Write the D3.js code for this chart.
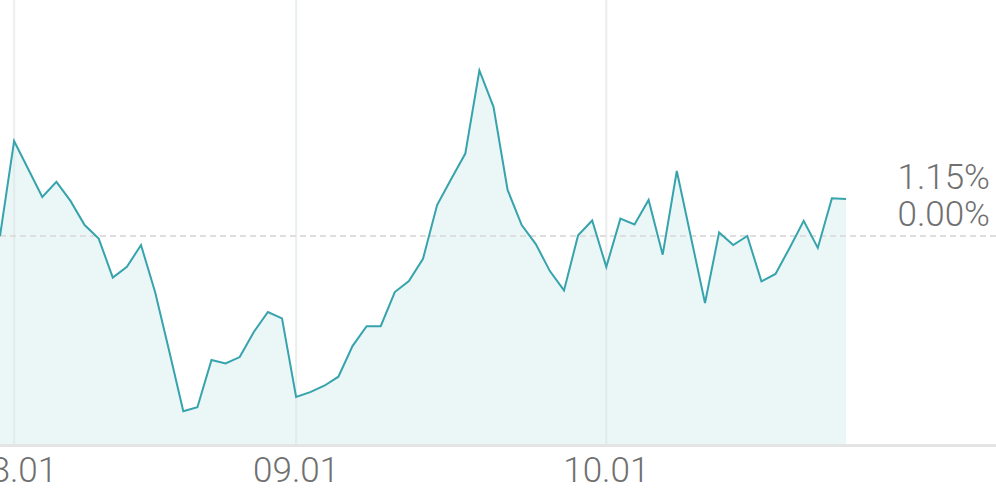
<!DOCTYPE html>
<html>
<head>
<meta charset="utf-8">
<script src="https://cdn.jsdelivr.net/npm/d3@7"></script>
<style>
	body { margin: 0; background: #fff; }
	svg text { font-family: Roboto, sans-serif; font-weight: 300; fill: #707070; }
</style>
</head>
<body>
<div id="chart"></div>
<script>
var w = 996, h = 490;

// Daily change in %, one value per trading day
var changes = [
	0.00, 2.95, 2.08, 1.21, 1.68, 1.09, 0.34, -0.08, -1.29, -0.96,
	-0.28, -1.74, -3.57, -5.44, -5.32, -3.85, -3.96, -3.76, -2.98, -2.36,
	-2.56, -5.00, -4.85, -4.65, -4.37, -3.42, -2.80, -2.80, -1.74, -1.40,
	-0.71, 0.96, 1.77, 2.56, 5.14, 4.01, 1.43, 0.34, -0.25, -1.09,
	-1.69, 0.02, 0.48, -0.96, 0.54, 0.36, 1.12, -0.58, 2.02, -0.03,
	-2.08, 0.11, -0.28, 0.00, -1.41, -1.18, -0.37, 0.47, -0.37, 1.17,
	1.15
];

// Month ticks (index of trading day) and labels
var tickIndex = [1, 21, 43];
var tickLabels = ["08.01", "09.01", "10.01"];

var lastLabel = "1.15%";
var zeroLabel = "0.00%";

var svg = d3.select("#chart").append("svg:svg")
	.attr("width", w)
	.attr("height", h);

var x = d3.scaleLinear()
	.domain([0, 60])
	.range([0, 846]);

var y = d3.scaleLinear()
	.domain([-6.46, 0]) // bottom of plot to zero line
	.range([444, 236]);

// Vertical month gridlines
svg.append("g")
	.selectAll("line")
	.data(tickIndex)
	.enter()
	.append("line")
		.attr("x1", function(d) { return x(d); })
		.attr("x2", function(d) { return x(d); })
		.attr("y1", 0)
		.attr("y2", 444)
		.attr("stroke", "#f1f1f1")
		.attr("stroke-width", 2);

// Area
var area = d3.area()
	.x(function(d, i) { return x(i); })
	.y0(y(-6.46))
	.y1(function(d) { return y(d); });

svg.append("path")
	.datum(changes)
	.attr("d", area)
	.attr("fill", "#3aa6b0")
	.attr("fill-opacity", 0.1);

// Gridlines again, faint over the fill
svg.append("g")
	.selectAll("line")
	.data(tickIndex)
	.enter()
	.append("line")
		.attr("x1", function(d) { return x(d); })
		.attr("x2", function(d) { return x(d); })
		.attr("y1", 0)
		.attr("y2", 444)
		.attr("stroke", "#e6efee")
		.attr("stroke-opacity", 0.5)
		.attr("stroke-width", 2);

// Zero line
svg.append("line")
	.attr("x1", 0)
	.attr("x2", w)
	.attr("y1", y(0))
	.attr("y2", y(0))
	.attr("stroke", "#dedede")
	.attr("stroke-width", 2)
	.attr("stroke-dasharray", "6,4");

// Line
var line = d3.line()
	.x(function(d, i) { return x(i); })
	.y(function(d) { return y(d); });

svg.append("path")
	.datum(changes)
	.attr("d", line)
	.attr("fill", "none")
	.attr("stroke", "#36a3ad")
	.attr("stroke-width", 2)
	.attr("stroke-linejoin", "miter");

// Bottom axis line
svg.append("line")
	.attr("x1", 0)
	.attr("x2", w)
	.attr("y1", 445.5)
	.attr("y2", 445.5)
	.attr("stroke", "#e4e4e4")
	.attr("stroke-width", 3);

// X tick labels
svg.append("g")
	.selectAll("text")
	.data(tickIndex)
	.enter()
	.append("text")
		.attr("x", function(d) { return x(d); })
		.attr("y", 482)
		.attr("text-anchor", "middle")
		.style("font-size", "35px")
		.text(function(d, i) { return tickLabels[i]; });

// Right labels
svg.append("text")
	.attr("x", 990)
	.attr("y", 189)
	.attr("text-anchor", "end")
	.style("font-size", "35px")
	.text(lastLabel);

svg.append("text")
	.attr("x", 990)
	.attr("y", 226)
	.attr("text-anchor", "end")
	.style("font-size", "35px")
	.text(zeroLabel);
</script>
</body>
</html>
